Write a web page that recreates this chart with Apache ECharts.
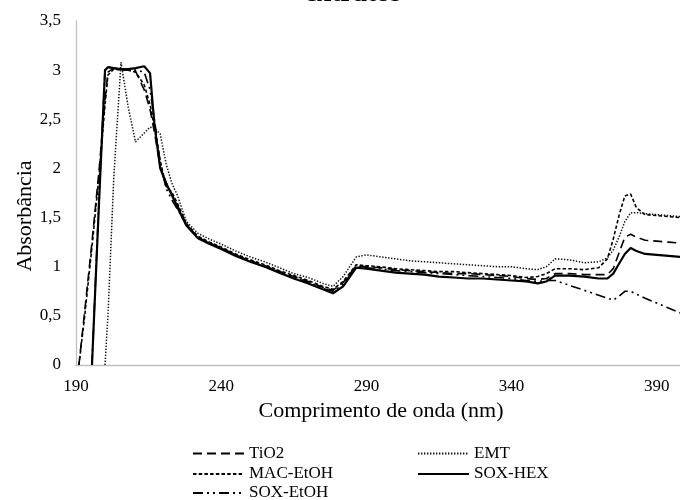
<!DOCTYPE html>
<html>
<head>
<meta charset="utf-8">
<script src="https://cdn.jsdelivr.net/npm/echarts@6/dist/echarts.min.js"></script>
<style>html,body{margin:0;padding:0;background:#fff}#c{width:680px;height:500px}</style>
</head>
<body>
<div id="c"></div>
<script>
const FONT = '"Liberation Serif", "Times New Roman", serif';
const titleText = 'extratos';
const xName = 'Comprimento de onda (nm)';
const yName = 'Absorbância';
const xTicks = [190, 240, 290, 340, 390];
const yTicks = [0, 0.5, 1, 1.5, 2, 2.5, 3, 3.5];
const seriesNames = ['TiO2', 'EMT', 'MAC-EtOH', 'SOX-HEX', 'SOX-EtOH'];

const wl = [191,193,195.5,198,200,201,203,205.5,208,210.5,213.5,215.5,217,219,221,223,225,228,232,236,240,245,250,255,260,265,270,275,278.5,282,286.5,290,295,300,305,310,315,320,325,330,335,340,345,349,352,355,360,365,370,373,375,377,379,381,383,386,390,394,398];

const tio2 = [0,0.55,1.25,2.0,2.7,2.98,3.02,3.01,3.0,2.99,2.8,2.6,2.37,2.02,1.86,1.74,1.62,1.43,1.3,1.24,1.19,1.12,1.06,1.01,0.95,0.9,0.85,0.79,0.76,0.84,1.01,1.0,0.99,0.97,0.96,0.95,0.94,0.93,0.93,0.92,0.91,0.9,0.88,0.87,0.88,0.93,0.93,0.92,0.92,0.92,0.98,1.14,1.3,1.33,1.3,1.27,1.26,1.25,1.24];

const emt = [null,null,null,null,0,0.5,1.9,3.08,2.62,2.27,2.36,2.42,2.41,2.35,2.05,1.85,1.72,1.46,1.34,1.28,1.23,1.16,1.1,1.05,0.99,0.93,0.89,0.83,0.8,0.9,1.1,1.12,1.1,1.08,1.06,1.05,1.04,1.03,1.02,1.01,1.0,1.0,0.98,0.97,1.0,1.08,1.07,1.04,1.05,1.09,1.17,1.3,1.46,1.55,1.55,1.54,1.53,1.52,1.51];

const macEtoh = [0,0.5,1.2,1.95,2.65,2.95,3.01,3.0,3.0,2.98,2.85,2.65,2.42,2.08,1.82,1.76,1.64,1.44,1.31,1.25,1.2,1.13,1.07,1.02,0.96,0.91,0.86,0.8,0.77,0.85,1.02,1.01,1.0,0.98,0.97,0.96,0.95,0.95,0.94,0.93,0.92,0.91,0.89,0.9,0.93,0.98,0.98,0.97,0.99,1.08,1.28,1.52,1.72,1.74,1.6,1.53,1.52,1.51,1.5];

const soxHex = [null,null,0,1.7,3.0,3.03,3.02,3.01,3.01,3.02,3.04,2.97,2.45,2.0,1.85,1.73,1.6,1.42,1.29,1.23,1.18,1.11,1.05,1.0,0.94,0.88,0.83,0.77,0.73,0.8,0.99,0.98,0.96,0.94,0.93,0.92,0.9,0.89,0.88,0.88,0.87,0.86,0.85,0.83,0.85,0.91,0.91,0.9,0.88,0.88,0.93,1.03,1.13,1.19,1.16,1.13,1.12,1.11,1.1];

const soxEtoh = [null,null,0,1.75,3.01,3.03,3.02,3.01,3.0,3.0,2.98,2.8,2.5,2.05,1.8,1.68,1.58,1.43,1.3,1.24,1.19,1.12,1.06,1.0,0.95,0.89,0.84,0.78,0.75,0.82,1.0,0.99,0.98,0.96,0.95,0.94,0.93,0.92,0.91,0.9,0.89,0.88,0.86,0.85,0.86,0.86,0.81,0.76,0.71,0.68,0.66,0.7,0.75,0.75,0.72,0.68,0.63,0.58,0.53];

function pairs(vals){
  const out = [];
  for (let i = 0; i < wl.length; i++) { if (vals[i] !== null) out.push([wl[i], vals[i]]); }
  return out;
}

const styles = {
  'TiO2': {type:[9,5], width:1.6},
  'EMT': {type:[1.4,1.6], width:1.5, color:'#111'},
  'MAC-EtOH': {type:[3.5,2.2], width:1.6},
  'SOX-HEX': {type:'solid', width:2.2},
  'SOX-EtOH': {type:[10,4,2,4,2,4], width:1.6}
};
const valuesByName = {'TiO2': tio2, 'EMT': emt, 'MAC-EtOH': macEtoh, 'SOX-HEX': soxHex, 'SOX-EtOH': soxEtoh};
const legendPos = {
  'TiO2': [192, 445], 'MAC-EtOH': [192, 465.5], 'SOX-EtOH': [192, 484.5],
  'EMT': [417, 445], 'SOX-HEX': [417, 465.5]
};

const chart = echarts.init(document.getElementById('c'), null, {renderer:'canvas'});
chart.setOption({
  animation:false,
  backgroundColor:'#fff',
  grid:{left:76, top:21, right:0, bottom:135, containLabel:false, outerBoundsMode:'none'},
  xAxis:{
    type:'value', min:190, max:398,
    axisLine:{show:true, lineStyle:{color:'#bfbfbf', width:1.3}},
    axisTick:{show:false},
    splitLine:{show:false},
    axisLabel:{customValues:xTicks, showMinLabel:true, showMaxLabel:true, margin:13, color:'#000', fontFamily:FONT, fontSize:17}
  },
  yAxis:{
    type:'value', min:0, max:3.5, interval:0.5,
    axisLine:{show:true, lineStyle:{color:'#bfbfbf', width:1.3}},
    axisTick:{show:false},
    splitLine:{show:false},
    axisLabel:{customValues:yTicks, margin:15, color:'#000', fontFamily:FONT, fontSize:17,
      formatter:v => String(v).replace('.', ',')}
  },
  legend: seriesNames.map(n => ({
    orient:'horizontal', left:legendPos[n][0], top:legendPos[n][1], padding:0,
    itemWidth:51, itemHeight:12, selectedMode:false,
    itemStyle:{opacity:0, borderWidth:0},
    data:[n], textStyle:{fontFamily:FONT, fontSize:17, color:'#000'}
  })),
  graphic:[
    {type:'text', x:353, y:-6, style:{text:titleText, font:'bold 28px ' + FONT, fill:'#000', align:'center', verticalAlign:'middle'}},
    {type:'text', x:381, y:411, style:{text:xName, font:'22px ' + FONT, fill:'#000', align:'center', verticalAlign:'middle'}},
    {type:'text', x:25, y:216, rotation:Math.PI/2, style:{text:yName, font:'22px ' + FONT, fill:'#000', align:'center', verticalAlign:'middle'}}
  ],
  series: seriesNames.map(n => ({
    name:n, type:'line', data:pairs(valuesByName[n]), showSymbol:false, symbol:'none',
    smooth:false, color:styles[n].color || '#000',
    lineStyle:Object.assign({color:styles[n].color || '#000'}, styles[n]),
    emphasis:{disabled:true}
  }))
});
</script>
</body>
</html>
